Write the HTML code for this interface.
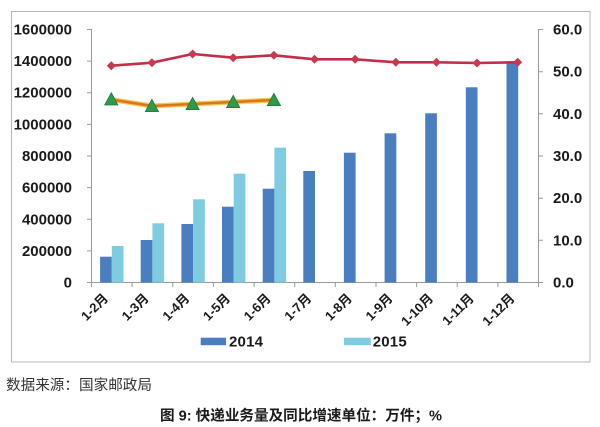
<!DOCTYPE html>
<html><head><meta charset="utf-8"><style>
html,body{margin:0;padding:0;background:#fff;}
svg{display:block;}
</style></head><body>
<svg width="600" height="427" viewBox="0 0 600 427" xmlns="http://www.w3.org/2000/svg" font-family="'Liberation Sans','Noto Sans CJK SC',sans-serif">
<rect x="0" y="0" width="600" height="427" fill="#fff"/>
<rect x="11.5" y="11.5" width="578.5" height="350.5" fill="#fff" stroke="#b8b8b8" stroke-width="1"/>

<!-- axes -->
<g stroke="#9a9a9a" stroke-width="1" fill="none">
<line x1="91.5" y1="29" x2="91.5" y2="282.5"/>
<line x1="538.5" y1="29" x2="538.5" y2="282.5"/>
<line x1="91" y1="282.5" x2="538.5" y2="282.5"/>
<path d="M87 29.5H91.5M87 61.1H91.5M87 92.7H91.5M87 124.4H91.5M87 156H91.5M87 187.6H91.5M87 219.3H91.5M87 250.9H91.5M87 282.5H91.5"/>
<path d="M538.5 29.5H543M538.5 71.7H543M538.5 113.8H543M538.5 156H543M538.5 198.2H543M538.5 240.3H543M538.5 282.5H543"/>
<path d="M91.5 282.5V287M132.1 282.5V287M172.8 282.5V287M213.4 282.5V287M254.1 282.5V287M294.7 282.5V287M335.3 282.5V287M376 282.5V287M416.6 282.5V287M457.2 282.5V287M497.9 282.5V287M538.5 282.5V287"/>
</g>

<!-- left labels -->
<g font-size="15" font-weight="bold" fill="#1a1a1a" text-anchor="end">
<text x="72" y="34.5">1600000</text>
<text x="72" y="66.1">1400000</text>
<text x="72" y="97.7">1200000</text>
<text x="72" y="129.4">1000000</text>
<text x="72" y="161">800000</text>
<text x="72" y="192.6">600000</text>
<text x="72" y="224.3">400000</text>
<text x="72" y="255.9">200000</text>
<text x="72" y="287.5">0</text>
</g>
<!-- right labels -->
<g font-size="15" font-weight="bold" fill="#1a1a1a">
<text x="553" y="34.5">60.0</text>
<text x="553" y="76.7">50.0</text>
<text x="553" y="118.8">40.0</text>
<text x="553" y="161">30.0</text>
<text x="553" y="203.2">20.0</text>
<text x="553" y="245.3">10.0</text>
<text x="553" y="287.5">0.0</text>
</g>

<!-- bars 2014 -->
<g fill="#4a7ebf">
<rect x="100.1" y="256.7" width="11.7" height="25.8"/>
<rect x="140.7" y="240" width="11.7" height="42.5"/>
<rect x="181.4" y="224" width="11.7" height="58.5"/>
<rect x="222" y="206.7" width="11.7" height="75.8"/>
<rect x="262.7" y="188.7" width="11.7" height="93.8"/>
<rect x="303.3" y="171" width="11.7" height="111.5"/>
<rect x="343.9" y="152.7" width="11.7" height="129.8"/>
<rect x="384.6" y="133.3" width="11.7" height="149.2"/>
<rect x="425.2" y="113.3" width="11.7" height="169.2"/>
<rect x="465.8" y="87.3" width="11.7" height="195.2"/>
<rect x="506.5" y="62" width="11.7" height="220.5"/>
</g>
<!-- bars 2015 -->
<g fill="#7fcbe0">
<rect x="111.8" y="246" width="11.7" height="36.5"/>
<rect x="152.4" y="223.3" width="11.7" height="59.2"/>
<rect x="193.1" y="199.3" width="11.7" height="83.2"/>
<rect x="233.7" y="173.7" width="11.7" height="108.8"/>
<rect x="274.4" y="147.7" width="11.7" height="134.8"/>
</g>

<!-- red line 2014 growth -->
<polyline fill="none" stroke="#c0304a" stroke-width="2.6" stroke-linejoin="round"
 points="111.3,65.7 151.9,62.7 192.6,54 233.2,57.7 273.9,55.3 314.5,59.3 355.1,59.3 395.8,62.3 436.4,62.3 477,63 517.7,62.3"/>
<g fill="#c8384f">
<path d="M111.3 61.2l4.5 4.5-4.5 4.5-4.5-4.5z"/>
<path d="M151.9 58.2l4.5 4.5-4.5 4.5-4.5-4.5z"/>
<path d="M192.6 49.5l4.5 4.5-4.5 4.5-4.5-4.5z"/>
<path d="M233.2 53.2l4.5 4.5-4.5 4.5-4.5-4.5z"/>
<path d="M273.9 50.8l4.5 4.5-4.5 4.5-4.5-4.5z"/>
<path d="M314.5 54.8l4.5 4.5-4.5 4.5-4.5-4.5z"/>
<path d="M355.1 54.8l4.5 4.5-4.5 4.5-4.5-4.5z"/>
<path d="M395.8 57.8l4.5 4.5-4.5 4.5-4.5-4.5z"/>
<path d="M436.4 57.8l4.5 4.5-4.5 4.5-4.5-4.5z"/>
<path d="M477 58.5l4.5 4.5-4.5 4.5-4.5-4.5z"/>
<path d="M517.7 57.8l4.5 4.5-4.5 4.5-4.5-4.5z"/>
</g>

<!-- orange line 2015 growth -->
<polyline fill="none" stroke="#f3c75a" stroke-width="5" stroke-linejoin="round"
 points="111.3,99.5 151.9,106 192.6,104 233.2,102 273.9,100"/>
<polyline fill="none" stroke="#e0741c" stroke-width="2.6" stroke-linejoin="round"
 points="111.3,99.5 151.9,106 192.6,104 233.2,102 273.9,100"/>
<g fill="#2e9a4c" stroke="#1f7a38" stroke-width="0.8">
<path d="M111.3 92.7l6.6 12.3h-13.2z"/>
<path d="M151.9 99.3l6.6 12.3h-13.2z"/>
<path d="M192.6 97.3l6.6 12.3h-13.2z"/>
<path d="M233.2 95.3l6.6 12.3h-13.2z"/>
<path d="M273.9 93.3l6.6 12.3h-13.2z"/>
</g>

<!-- x labels -->
<g font-size="13" font-weight="bold" fill="#1a1a1a" text-anchor="end">
<text transform="translate(109,299) rotate(-45)">1-2月</text>
<text transform="translate(149.6,299) rotate(-45)">1-3月</text>
<text transform="translate(190.3,299) rotate(-45)">1-4月</text>
<text transform="translate(230.9,299) rotate(-45)">1-5月</text>
<text transform="translate(271.6,299) rotate(-45)">1-6月</text>
<text transform="translate(312.2,299) rotate(-45)">1-7月</text>
<text transform="translate(352.8,299) rotate(-45)">1-8月</text>
<text transform="translate(393.5,299) rotate(-45)">1-9月</text>
<text transform="translate(434.1,299) rotate(-45)">1-10月</text>
<text transform="translate(474.7,299) rotate(-45)">1-11月</text>
<text transform="translate(515.4,299) rotate(-45)">1-12月</text>
</g>

<!-- legend -->
<rect x="200.7" y="337.7" width="25.3" height="7.5" fill="#4a7ebf"/>
<text x="229" y="346.5" font-size="15" font-weight="bold" fill="#1a1a1a" textLength="34">2014</text>
<rect x="344" y="337.7" width="26.7" height="7.5" fill="#7fcbe0"/>
<text x="372.7" y="346.5" font-size="15" font-weight="bold" fill="#1a1a1a" textLength="34">2015</text>

<!-- source & caption -->
<text x="6" y="390" font-size="14.5" fill="#333" textLength="146" lengthAdjust="spacingAndGlyphs">数据来源：国家邮政局</text>
<text x="160" y="420.5" font-size="14.5" font-weight="bold" fill="#1a1a1a" textLength="282" lengthAdjust="spacingAndGlyphs">图 9: 快递业务量及同比增速单位：万件；%</text>
</svg>
</body></html>
